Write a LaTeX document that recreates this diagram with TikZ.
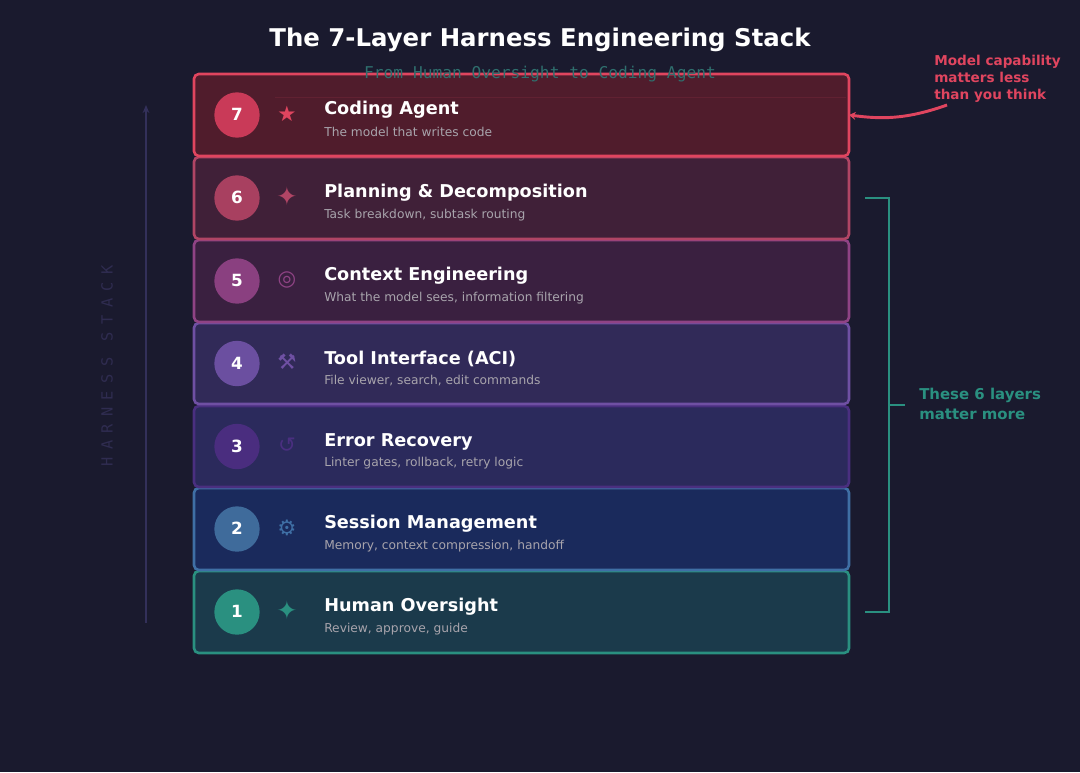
\documentclass[tikz,border=0pt]{standalone}
\usepackage{fontspec}
\setmainfont{DejaVu Sans}
\newfontfamily\monof{DejaVu Sans Mono}
\newfontfamily\spacedf[LetterSpace=48]{DejaVu Sans Mono}
\usetikzlibrary{arrows.meta}
\definecolor{bg}{HTML}{1A1A2E}
\definecolor{annred}{HTML}{E0455F}
\definecolor{teal}{HTML}{2A9080}
\definecolor{subgrey}{HTML}{A8A4AC}
\definecolor{faint}{HTML}{33305A}
\definecolor{faintt}{HTML}{2F2C50}
\definecolor{subt}{HTML}{2F6F6E}
\definecolor{fA}{HTML}{1B3A4B}\definecolor{sA}{HTML}{2A9080}\definecolor{cA}{HTML}{2A9080}
\definecolor{fB}{HTML}{1A2A5C}\definecolor{sB}{HTML}{3F6FA5}\definecolor{cB}{HTML}{3F6B9B}
\definecolor{fC}{HTML}{2B2A5C}\definecolor{sC}{HTML}{4A2F80}\definecolor{cC}{HTML}{4A2D7F}
\definecolor{fD}{HTML}{312A58}\definecolor{sD}{HTML}{6F50A3}\definecolor{cD}{HTML}{6B4FA0}
\definecolor{fE}{HTML}{3A2040}\definecolor{sE}{HTML}{8F4385}\definecolor{cE}{HTML}{8A4080}
\definecolor{fF}{HTML}{402038}\definecolor{sF}{HTML}{B04565}\definecolor{cF}{HTML}{A84060}
\definecolor{fG}{HTML}{501C2C}\definecolor{sG}{HTML}{E0455F}\definecolor{cG}{HTML}{C93A58}
\newcommand{\bigstar}{\fontsize{19}{20}\selectfont ✦}
\tikzset{
  x=0.75pt,y=-0.75pt,
  layerbox/.style={draw=#1,line width=1.95pt,rounded corners=3.6pt},
  numcirc/.style={circle,fill=#1,minimum size=34pt,inner sep=0pt,text=white,font=\fontsize{12.6}{14}\selectfont\bfseries},
  iconsym/.style={text=#1,font=\fontsize{16}{18}\selectfont,inner sep=0pt},
  headt/.style={text=white,anchor=west,inner sep=0pt,font=\fontsize{13.25}{16}\selectfont\bfseries},
  subhead/.style={text=subgrey,anchor=west,inner sep=0pt,font=\fontsize{9.18}{11}\selectfont},
  notetext/.style={anchor=west,align=left,inner sep=0pt,text=#1,font=\fontsize{10.2}{12.75}\selectfont\bfseries},
}
\newcommand{\layerrow}[9]{%
 % id, ytop, ybot, fill, stroke, circle, icon, head, sub
 \path[fill=#4,layerbox=#5] (194,#2) rectangle (849,#3) coordinate (box#1br);
 \coordinate (box#1e) at (849,{(#2+#3)/2});
 \node[numcirc=#6] (num#1) at (237,{(#2+#3)/2}) {\raisebox{0.75pt}{#1}};
 \node[iconsym=#5] (ico#1) at (287,{(#2+#3)/2-1.5}) {#7};
 \node[headt] (head#1) at (324,{(#2+#3)/2-5}) {#8};
 \node[subhead] (sub#1) at (324,{(#2+#3)/2+17}) {#9};
}
\begin{document}
\begin{tikzpicture}
\useasboundingbox[fill=bg] (0,0) rectangle (1080,772);
\node[text=white,inner sep=0pt,font=\fontsize{18.3}{22}\selectfont\bfseries] (title) at (540,39.5) {The 7-Layer Harness Engineering Stack};
% layers
\layerrow{1}{571}{653}{fA}{sA}{cA}{\bigstar}{Human Oversight}{Review, approve, guide}
\layerrow{2}{488}{570}{fB}{sB}{cB}{⚙}{Session Management}{Memory, context compression, handoff}
\layerrow{3}{406}{487}{fC}{sC}{cC}{↺}{Error Recovery}{Linter gates, rollback, retry logic}
\layerrow{4}{323}{404}{fD}{sD}{cD}{⚒}{Tool Interface (ACI)}{File viewer, search, edit commands}
\layerrow{5}{240}{322}{fE}{sE}{cE}{\raisebox{-1pt}{◎}}{Context Engineering}{What the model sees, information filtering}
\layerrow{6}{157}{239}{fF}{sF}{cF}{\bigstar}{Planning \& Decomposition}{Task breakdown, subtask routing}
\layerrow{7}{74}{156}{fG}{sG}{cG}{★}{Coding Agent}{The model that writes code}
\coordinate (ruleA) at (275,97);
\coordinate (ruleB) at (846,97);
\draw[line width=0.5pt,draw=sG!12!fG] (ruleA) -- (ruleB);
\node[text=subt,inner sep=0pt,font=\fontsize{12.17}{14}\selectfont\monof] (subtitle) at (540,74.5) {From Human Oversight to Coding Agent};
% left axis
\coordinate (axisA) at (146,623);
\coordinate (axisB) at (146,105);
\draw[draw=faint,line width=1.1pt,-{Stealth[length=6pt,width=5pt]}] (axisA) -- (axisB);
\node[text=faintt,rotate=90,inner sep=0pt,font=\fontsize{11.5}{13}\selectfont\spacedf] (axislabel) at (107,366) {HARNESS STACK};
% annotation
\node[notetext=annred] (noteA) at (934,79) {Model capability\\matters less\\than you think};
\coordinate (noteAend) at (947,105);
\draw[draw=annred,line width=2.2pt,-{Stealth[length=5pt,width=6pt]}] (noteAend) .. controls (905,120) and (880,119) .. (box7e);
% bracket
\coordinate (brA) at (865,198);
\coordinate (brB) at (889,198);
\coordinate (brC) at (889,612);
\coordinate (brD) at (865,612);
\coordinate (brM) at (889,405);
\coordinate (brN) at (905,405);
\draw[draw=teal,line width=1.5pt] (brA) -- (brB) -- (brC) -- (brD);
\draw[draw=teal,line width=1.5pt] (brM) -- (brN);
\node[notetext=teal,font=\fontsize{11.2}{15.6}\selectfont\bfseries] (noteB) at (919,404) {These 6 layers\\matter more};
\end{tikzpicture}
\end{document}
